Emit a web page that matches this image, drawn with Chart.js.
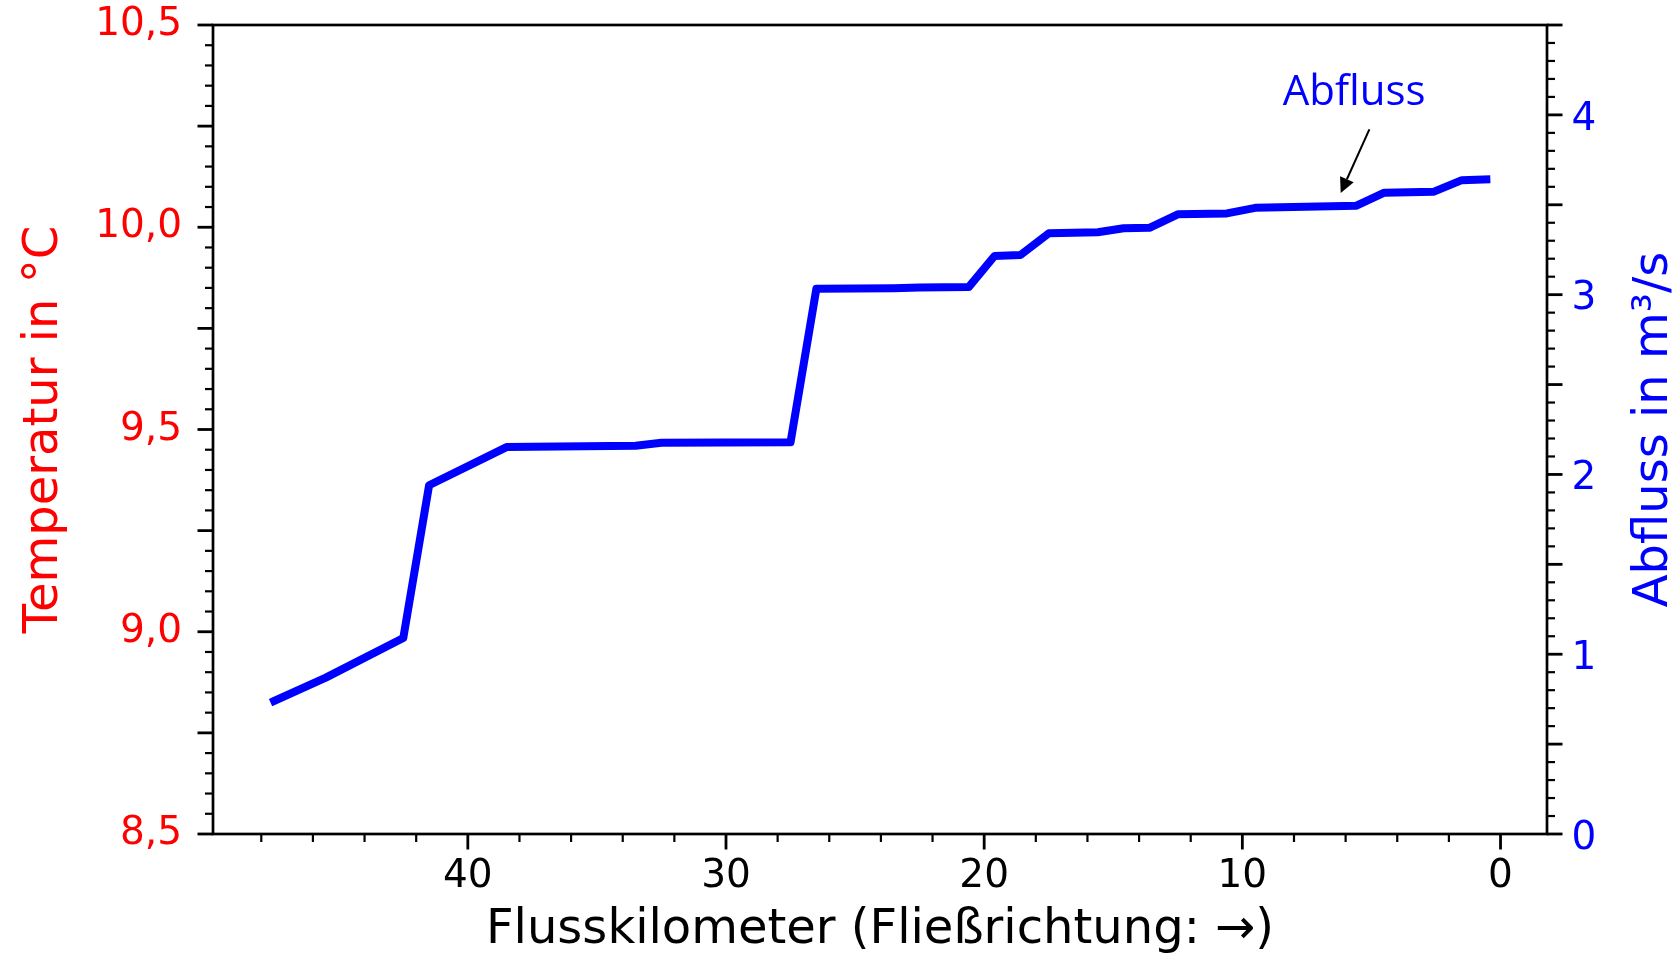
<!DOCTYPE html>
<html lang="de">
<head>
    <meta charset="UTF-8">
    <title>Abfluss</title>
    <script src="https://cdn.jsdelivr.net/npm/chart.js"></script>
    <style>
        body { margin: 0; background: #fff; }
    </style>
</head>
<body>
    <canvas id="abflussChart" width="1680" height="953"></canvas>
    <script>
        // Data (Flusskilometer -> Abfluss in m3/s)
        const flussKm = [47.5, 45.5, 42.5, 41.5, 38.5, 33.5, 32.5, 27.5, 26.5, 23.5, 22.5, 20.6, 19.6, 18.6, 17.5, 15.6, 14.6, 13.6, 12.5, 10.6, 9.5, 5.6, 4.5, 2.6, 1.5, 0.55];
        const abfluss = [0.74, 0.87, 1.09, 1.94, 2.152, 2.16, 2.176, 2.179, 3.033, 3.036, 3.04, 3.042, 3.215, 3.22, 3.341, 3.347, 3.369, 3.372, 3.447, 3.452, 3.483, 3.494, 3.567, 3.572, 3.637, 3.641];

        // Axes
        const xMin = -1.8, xMax = 49.87;
        const xLabelValues = [0, 10, 20, 30, 40];
        const tempMin = 8.5, tempMax = 10.5;
        const tempLabelValues = [8.5, 9.0, 9.5, 10.0, 10.5];
        const tempLabels = ['8,5', '9,0', '9,5', '10,0', '10,5'];
        const qMin = 0, qMax = 4.5;
        const qLabelValues = [0, 1, 2, 3, 4];

        // Annotation (data coordinates)
        const noteText = 'Abfluss';
        const noteAt = { x: 5.67, y: 4.054 };
        const arrowFrom = { x: 5.08, y: 3.919 };
        const arrowTo = { x: 6.19, y: 3.566 };

        const tickFont = { family: 'DejaVu Sans', size: 39 };
        const titleFont = '48px "DejaVu Sans"';

        const near = (a, b) => Math.abs(a - b) < 1e-6;
        const isMultiple = (v, step) => near(v / step, Math.round(v / step));

        function stepTicks(lo, hi, step) {
            const out = [];
            for (let v = Math.ceil(lo / step - 1e-9) * step; v <= hi + 1e-9; v += step) {
                out.push({ value: Math.round(v * 1000) / 1000 });
            }
            return out;
        }

        // frame, tick marks, titles and the annotation arrow
        const extras = {
            id: 'extras',
            afterDraw(chart) {
                const { ctx, chartArea: a, scales } = chart;
                ctx.save();
                ctx.strokeStyle = '#000';
                ctx.lineCap = 'butt';

                const drawTicks = (scale, side, majorStep) => {
                    scale.ticks.forEach(t => {
                        const major = isMultiple(t.value, majorStep);
                        const len = major ? 15.5 : 8;
                        const p = scale.getPixelForValue(t.value);
                        ctx.lineWidth = major ? 2.8 : 2.2;
                        ctx.beginPath();
                        if (side === 'bottom') { ctx.moveTo(p, a.bottom); ctx.lineTo(p, a.bottom + len); }
                        if (side === 'left') { ctx.moveTo(a.left, p); ctx.lineTo(a.left - len, p); }
                        if (side === 'right') { ctx.moveTo(a.right, p); ctx.lineTo(a.right + len, p); }
                        ctx.stroke();
                    });
                };
                drawTicks(scales.x, 'bottom', 10);
                drawTicks(scales.y, 'left', 0.25);
                drawTicks(scales.y1, 'right', 0.5);

                ctx.lineWidth = 2.7;
                ctx.strokeRect(a.left, a.top, a.right - a.left, a.bottom - a.top);

                // axis titles
                ctx.font = titleFont;
                ctx.textBaseline = 'alphabetic';
                ctx.textAlign = 'center';
                ctx.fillStyle = '#000';
                ctx.fillText('Flusskilometer (Fließrichtung: →)', (a.left + a.right) / 2, 943.3);

                ctx.save();
                ctx.translate(56.7, (a.top + a.bottom) / 2);
                ctx.rotate(-Math.PI / 2);
                ctx.fillStyle = '#ff0000';
                ctx.fillText('Temperatur in °C', 0, 0);
                ctx.restore();

                ctx.save();
                ctx.translate(1666.5, (a.top + a.bottom) / 2);
                ctx.rotate(-Math.PI / 2);
                ctx.fillStyle = '#0000ff';
                ctx.fillText('Abfluss in m³/s', 0, 0);
                ctx.restore();

                // annotation
                const x = scales.x, y1 = scales.y1;
                ctx.font = '42px "Open Sans"';
                ctx.fillStyle = '#0000ff';
                ctx.fillText(noteText, x.getPixelForValue(noteAt.x), y1.getPixelForValue(noteAt.y));

                const x0 = x.getPixelForValue(arrowFrom.x), y0 = y1.getPixelForValue(arrowFrom.y);
                const x1 = x.getPixelForValue(arrowTo.x), yy1 = y1.getPixelForValue(arrowTo.y);
                const ang = Math.atan2(yy1 - y0, x1 - x0);
                const head = 15, half = 7.5;
                const bx = x1 - head * Math.cos(ang), by = yy1 - head * Math.sin(ang);
                ctx.lineWidth = 2;
                ctx.beginPath();
                ctx.moveTo(x0, y0);
                ctx.lineTo(bx, by);
                ctx.stroke();
                ctx.fillStyle = '#000';
                ctx.beginPath();
                ctx.moveTo(x1, yy1);
                ctx.lineTo(bx + half * Math.sin(ang), by - half * Math.cos(ang));
                ctx.lineTo(bx - half * Math.sin(ang), by + half * Math.cos(ang));
                ctx.closePath();
                ctx.fill();
                ctx.restore();
            }
        };

        const noEdgePadding = s => {
            s.paddingTop = 0; s.paddingBottom = 0;
            s.paddingLeft = 0; s.paddingRight = 0;
        };

        new Chart(document.getElementById('abflussChart'), {
            type: 'line',
            data: {
                datasets: [{
                    label: 'Abfluss',
                    data: flussKm.map((km, i) => ({ x: km, y: abfluss[i] })),
                    borderColor: '#0000ff',
                    borderWidth: 8,
                    borderCapStyle: 'square',
                    borderJoinStyle: 'round',
                    pointRadius: 0,
                    tension: 0,
                    fill: false,
                    yAxisID: 'y1'
                }]
            },
            options: {
                responsive: false,
                animation: false,
                events: [],
                layout: { padding: { top: 25, left: 0, right: 0, bottom: 0 } },
                plugins: { legend: { display: false }, tooltip: { enabled: false } },
                scales: {
                    x: {
                        type: 'linear',
                        position: 'bottom',
                        reverse: true,
                        min: xMin,
                        max: xMax,
                        grid: { display: false },
                        border: { display: false },
                        afterBuildTicks: s => { s.ticks = stepTicks(xMin, xMax, 2); },
                        afterFit: s => { s.height = 119; noEdgePadding(s); },
                        ticks: {
                            autoSkip: false,
                            maxRotation: 0,
                            padding: 11,
                            color: '#000',
                            font: tickFont,
                            callback: v => xLabelValues.some(m => near(m, v)) ? String(v) : ''
                        }
                    },
                    y: {
                        type: 'linear',
                        position: 'left',
                        min: tempMin,
                        max: tempMax,
                        grid: { display: false },
                        border: { display: false },
                        afterBuildTicks: s => { s.ticks = stepTicks(tempMin, tempMax, 0.05); },
                        afterFit: s => { s.width = 213; noEdgePadding(s); },
                        ticks: {
                            autoSkip: false,
                            padding: 23,
                            color: '#ff0000',
                            font: tickFont,
                            callback: v => {
                                const i = tempLabelValues.findIndex(m => near(m, v));
                                return i >= 0 ? tempLabels[i] : '';
                            }
                        }
                    },
                    y1: {
                        type: 'linear',
                        position: 'right',
                        min: qMin,
                        max: qMax,
                        grid: { display: false },
                        border: { display: false },
                        afterBuildTicks: s => { s.ticks = stepTicks(qMin, qMax, 0.1); },
                        afterFit: s => { s.width = 133; noEdgePadding(s); },
                        ticks: {
                            autoSkip: false,
                            padding: 16.5,
                            labelOffset: 4.5,
                            color: '#0000ff',
                            font: tickFont,
                            callback: v => qLabelValues.some(m => near(m, v)) ? String(v) : ''
                        }
                    }
                }
            },
            plugins: [extras]
        });
    </script>
</body>
</html>
